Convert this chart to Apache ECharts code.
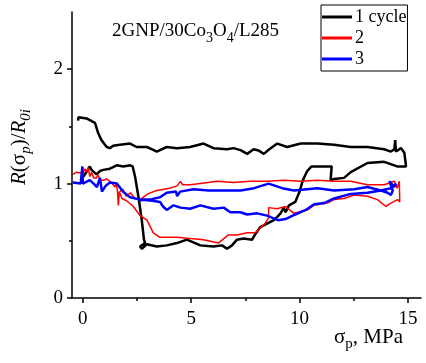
<!DOCTYPE html>
<html>
<head>
<meta charset="utf-8">
<script src="https://cdn.jsdelivr.net/npm/echarts@6/dist/echarts.min.js"></script>
<style>html,body{margin:0;padding:0;background:#fff;}#c{width:426px;height:363px;}</style>
</head>
<body>
<div id="c"></div>
<script>
var seriesNames = ['1 cycle', '2', '3'];
var xMajorTicks = [0, 5, 10, 15];
var xMinorTicks = [2.5, 7.5, 12.5];
var yMajorTicks = [0, 1, 2];
var yMinorTicks = [0.5, 1.5];

var cycle1 = [[-0.22,1.55],[-0.2,1.58],[0.17,1.57],[0.56,1.53],[0.71,1.44],[0.86,1.38],[1.1,1.32],[1.25,1.31],[1.4,1.33],[1.71,1.34],[2.18,1.35],[2.48,1.32],[2.95,1.32],[3.2,1.30],[3.41,1.28],[3.87,1.32],[4.34,1.31],[4.95,1.32],[5.57,1.35],[6.03,1.31],[6.65,1.30],[6.96,1.31],[7.3,1.29],[7.58,1.26],[7.88,1.30],[8.1,1.29],[8.35,1.26],[8.6,1.30],[8.97,1.35],[9.43,1.32],[10.05,1.35],[10.82,1.35],[11.59,1.34],[12.36,1.32],[13.13,1.32],[13.9,1.30],[14.21,1.28],[14.37,1.30],[14.41,1.38],[14.44,1.28],[14.68,1.31],[14.83,1.27],[14.91,1.15],[14.75,1.15],[14.5,1.15],[13.9,1.19],[13.13,1.18],[12.36,1.10],[12.05,1.05],[11.59,1.04],[11.43,1.03],[11.48,1.15],[10.97,1.15],[10.55,1.15],[10.35,1.11],[10.15,1.03],[10.0,0.93],[9.8,0.84],[9.51,0.81],[9.35,0.75],[9.27,0.79],[9.12,0.74],[8.97,0.71],[8.81,0.68],[8.5,0.65],[8.19,0.62],[7.96,0.56],[7.81,0.51],[7.42,0.52],[7.11,0.51],[6.88,0.46],[6.65,0.43],[6.42,0.46],[6.03,0.45],[5.42,0.46],[4.8,0.51],[4.34,0.48],[3.87,0.46],[3.41,0.45],[2.95,0.47],[2.72,0.43],[2.64,0.45],[2.87,0.48],[2.82,0.51],[2.72,0.68],[2.56,0.89],[2.41,1.06],[2.3,1.15],[2.18,1.16],[1.87,1.15],[1.56,1.16],[1.25,1.13],[0.94,1.12],[0.79,1.11],[0.63,1.08],[0.4,1.12],[0.32,1.15],[0.2,1.11],[0.02,1.06]];

var cycle2 = [[-0.45,1.08],[-0.3,1.1],[-0.22,1.1],[0.0,1.09],[0.1,1.13],[0.17,1.1],[0.25,1.14],[0.32,1.06],[0.4,1.1],[0.5,1.05],[0.63,1.05],[0.7,1.08],[0.8,1.03],[0.94,1.03],[1.1,1.04],[1.25,1.02],[1.35,1.0],[1.48,0.97],[1.55,1.0],[1.6,0.93],[1.64,0.81],[1.68,0.93],[1.8,0.87],[2.02,0.85],[2.33,0.80],[2.64,0.72],[2.96,0.68],[3.25,0.57],[3.55,0.53],[4.34,0.53],[4.95,0.52],[5.57,0.51],[6.25,0.48],[6.7,0.55],[7.11,0.55],[7.58,0.57],[7.96,0.57],[8.4,0.65],[8.57,0.70],[8.57,0.79],[8.97,0.78],[9.35,0.80],[9.74,0.74],[10.36,0.77],[10.67,0.81],[11.28,0.83],[11.59,0.86],[12.05,0.87],[12.52,0.90],[13.13,0.89],[13.59,0.86],[13.98,0.80],[14.21,0.83],[14.52,0.86],[14.62,0.84],[14.6,1.02],[14.5,0.96],[14.37,1.02],[13.9,0.99],[13.13,0.99],[12.36,1.02],[11.59,1.02],[10.82,1.03],[10.05,1.02],[9.27,1.03],[8.5,1.02],[7.73,1.02],[6.96,1.01],[6.19,1.02],[5.42,1.0],[4.95,0.99],[4.6,0.99],[4.5,1.02],[4.35,0.98],[4.0,0.96],[3.4,0.94],[3.0,0.91],[2.64,0.86],[2.4,0.87],[2.2,0.92],[2.0,0.89],[1.85,0.95],[1.7,0.93]];

var cycle3 = [[-0.46,1.01],[-0.1,1.0],[-0.03,1.0],[-0.02,1.15],[0.0,1.0],[0.32,1.03],[0.5,1.0],[0.65,0.97],[0.79,1.05],[0.88,0.93],[1.05,0.98],[1.25,1.01],[1.57,1.0],[1.85,0.93],[2.18,0.88],[2.64,0.86],[3.2,0.85],[3.56,0.84],[3.7,0.80],[3.87,0.77],[4.18,0.81],[4.5,0.79],[4.95,0.78],[5.42,0.81],[6.03,0.78],[6.5,0.79],[6.8,0.75],[7.27,0.75],[7.58,0.73],[8.04,0.74],[8.5,0.72],[9.0,0.68],[9.35,0.69],[9.8,0.73],[10.28,0.77],[10.67,0.82],[11.13,0.83],[11.59,0.87],[12.36,0.91],[13.13,0.92],[13.75,0.94],[14.06,0.92],[14.21,0.90],[14.3,0.94],[14.14,1.02],[14.37,0.97],[14.45,1.0],[14.21,0.96],[13.75,0.94],[13.13,0.97],[12.52,0.95],[11.59,0.94],[10.82,0.96],[9.74,0.94],[9.2,0.96],[8.57,1.0],[7.9,0.96],[7.27,0.94],[6.5,0.94],[5.8,0.94],[5.1,0.95],[4.49,0.93],[4.35,0.89],[4.3,0.93],[3.87,0.92],[3.56,0.88],[3.1,0.86],[2.77,0.86],[2.6,0.85]];

var chart = echarts.init(document.getElementById('c'), null, {renderer: 'canvas'});
var FONT = '"Liberation Serif", "Times New Roman", serif';
var axisLineStyle = {color: '#000', width: 1.5};

chart.setOption({
  backgroundColor: '#fff',
  animation: false,
  textStyle: {fontFamily: FONT},
  title: {
    text: '2GNP/30Co{sub|3}O{sub|4}/L285',
    left: 112, top: 17, padding: 0,
    textStyle: {
      fontFamily: FONT, fontSize: 19, fontWeight: 'normal', color: '#000',
      rich: {sub: {fontFamily: FONT, fontSize: 14, color: '#000', verticalAlign: 'bottom', lineHeight: 28}}
    }
  },
  legend: {
    orient: 'vertical', left: 321, top: 5,
    padding: [3, 1, 3, 1], itemGap: 3,
    itemWidth: 30, itemHeight: 3, icon: 'rect',
    borderColor: '#000', borderWidth: 1,
    data: seriesNames,
    textStyle: {fontFamily: FONT, fontSize: 18, color: '#000', lineHeight: 18, padding: [0, 0, 0, -2]}
  },
  grid: {left: 72, right: 5, top: 12, bottom: 65, containLabel: false, outerBoundsMode: 'none'},
  xAxis: [{
    type: 'value', min: -0.5, max: 15.6, position: 'bottom',
    axisLine: {show: true, onZero: false, lineStyle: axisLineStyle},
    axisTick: {show: true, length: 5, customValues: xMajorTicks, lineStyle: axisLineStyle},
    axisLabel: {customValues: xMajorTicks, margin: 12, fontFamily: FONT, fontSize: 19, color: '#000'},
    splitLine: {show: false},
    name: 'σ{sub|p}, MPa', nameLocation: 'end', nameGap: -18, nameMoveOverlap: false,
    nameTextStyle: {
      fontFamily: FONT, fontSize: 21, color: '#000', align: 'right', verticalAlign: 'top', padding: [24, 0, 0, 0],
      rich: {sub: {fontFamily: FONT, fontSize: 15, color: '#000', verticalAlign: 'bottom', lineHeight: 30}}
    }
  }, {
    type: 'value', min: -0.5, max: 15.6, position: 'bottom',
    axisLine: {show: false, onZero: false},
    axisTick: {show: true, length: 3, customValues: xMinorTicks, lineStyle: axisLineStyle},
    axisLabel: {show: false},
    splitLine: {show: false}
  }],
  yAxis: [{
    type: 'value', min: 0, max: 2.5, position: 'left',
    axisLine: {show: true, onZero: false, lineStyle: axisLineStyle},
    axisTick: {show: true, length: 5, customValues: yMajorTicks, lineStyle: axisLineStyle},
    axisLabel: {customValues: yMajorTicks, margin: 9, fontFamily: FONT, fontSize: 19, color: '#000'},
    splitLine: {show: false},
    name: '{i|R}(σ{si|p})/{i|R}{si|0i}', nameLocation: 'middle', nameRotate: 90, nameGap: 38,
    nameTextStyle: {
      fontFamily: FONT, fontSize: 21, color: '#000', padding: [0, 0, 0, 16],
      rich: {
        i: {fontFamily: FONT, fontSize: 21, fontStyle: 'italic', color: '#000'},
        si: {fontFamily: FONT, fontSize: 15, fontStyle: 'italic', color: '#000', verticalAlign: 'bottom', lineHeight: 30}
      }
    }
  }, {
    type: 'value', min: 0, max: 2.5, position: 'left',
    axisLine: {show: false, onZero: false},
    axisTick: {show: true, length: 3, customValues: yMinorTicks, lineStyle: axisLineStyle},
    axisLabel: {show: false},
    splitLine: {show: false}
  }],
  series: [
    {name: seriesNames[0], type: 'line', data: cycle1, symbol: 'none', xAxisIndex: 0, yAxisIndex: 0,
     lineStyle: {color: '#000', width: 2.5}, itemStyle: {color: '#000'}},
    {name: seriesNames[1], type: 'line', data: cycle2, symbol: 'none', xAxisIndex: 0, yAxisIndex: 0,
     lineStyle: {color: '#ff0000', width: 1.5}, itemStyle: {color: '#ff0000'}},
    {name: seriesNames[2], type: 'line', data: cycle3, symbol: 'none', xAxisIndex: 0, yAxisIndex: 0,
     lineStyle: {color: '#0000ff', width: 2.5}, itemStyle: {color: '#0000ff'}}
  ]
});
</script>
</body>
</html>
